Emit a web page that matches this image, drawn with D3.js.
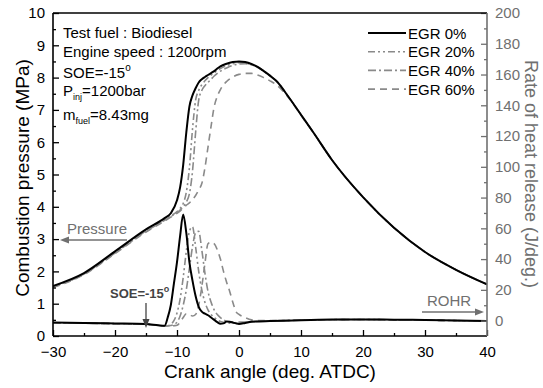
<!DOCTYPE html>
<html><head><meta charset="utf-8">
<script src="https://cdn.jsdelivr.net/npm/d3@7"></script>
<style>
html,body{margin:0;padding:0;background:#fff;}
text{font-family:Arial,"Liberation Sans",sans-serif;}
</style></head>
<body><svg id="chart" width="543" height="388"></svg>
<script>
// ---------- data ----------
const seriesNames = ["EGR 0%", "EGR 20%", "EGR 40%", "EGR 60%"];
const pressureAngles = [-30,-25,-20,-15,-12,-11,-10,-9.5,-9,-8.5,-8,-7.5,-7,-6.5,-6,-5.5,-5,-4.5,-4,-3.5,-3,-2,-1,0,1,2,3,4,5,6,8,10,12,15,20,25,30,35,40];
const pressureEGR0  = [1.55,1.95,2.62,3.3,3.65,3.8,4.2,4.6,5.3,6.3,7.1,7.45,7.67,7.85,7.95,8.02,8.08,8.14,8.2,8.28,8.35,8.43,8.48,8.5,8.48,8.42,8.33,8.2,8.06,7.9,7.4,6.85,6.3,5.45,4.3,3.35,2.6,2.05,1.6];
const pressureEGR20 = [1.52,1.92,2.58,3.25,3.6,3.72,3.85,3.95,4.1,4.45,5.2,6.4,7.3,7.6,7.78,7.9,8.0,8.08,8.15,8.22,8.28,8.37,8.43,8.46,8.45,8.4,8.32,8.2,8.05,7.9,7.4,6.85,6.3,5.45,4.3,3.35,2.6,2.05,1.6];
const pressureEGR40 = [1.52,1.92,2.57,3.24,3.58,3.7,3.82,3.9,4.0,4.15,4.4,5.1,6.3,7.3,7.6,7.75,7.85,7.95,8.05,8.13,8.2,8.3,8.38,8.42,8.43,8.4,8.32,8.2,8.05,7.9,7.4,6.85,6.3,5.45,4.3,3.35,2.6,2.05,1.6];
const pressureEGR60 = [1.5,1.9,2.55,3.22,3.56,3.68,3.8,3.87,3.95,4.05,4.12,4.22,4.35,4.52,4.72,5.2,5.85,6.5,7.1,7.42,7.63,7.88,8.02,8.1,8.13,8.13,8.08,8.0,7.9,7.78,7.38,6.83,6.3,5.45,4.3,3.35,2.6,2.05,1.6];

const rohrAngles = [-30,-25,-20,-15,-13,-12,-11.5,-11,-10.5,-10,-9.5,-9,-8.5,-8,-7.5,-7,-6.5,-6,-5.5,-5,-4.5,-4,-3.5,-3,-2.5,-2,-1.5,-1,-0.5,0,1,2,3,5,10,15,20,25,30,35,40];
const rohrEGR0  = [-1.2,-1.5,-1.8,-2.2,-3.0,-3.3,2,10,24,38,55,69,57,38,26,16,9,5.8,4.5,3.5,2,0.5,-1,-2,-1.8,-0.5,-0.7,-1.2,-1.8,-2.2,-1.5,-0.7,-0.5,-0.3,0.3,0.7,0.8,0.6,0.4,0.1,-0.2];
const rohrEGR20 = [-1.4,-1.7,-2.0,-2.4,-3.2,-3.5,-3.4,-2.5,0,5,14,28,45,58,61,48,32,20,12,7,4,2,0.5,-0.5,-1,-1.5,-1.6,-1.5,-1.2,-1,-1,-0.7,-0.5,-0.2,0.3,0.6,0.7,0.5,0.3,0,-0.3];
const rohrEGR40 = [-1.4,-1.7,-2.0,-2.4,-3.2,-3.5,-3.5,-3.2,-2.5,-1,3,10,20,34,48,57,58,46,31,19,12,7,4,2,0.5,-0.5,-1,-1.3,-1.5,-1.5,-1,-0.7,-0.5,-0.2,0.3,0.6,0.7,0.5,0.3,0,-0.3];
const rohrEGR60 = [-1.4,-1.7,-2.0,-2.4,-3.2,-3.5,-3.5,-3.5,-3.3,-3,-1,2,4.5,4,3,4,10,22,37,50,51,50,46,40,32,25,19,12,6,4,2,0.5,0,0,0.3,0.6,0.7,0.5,0.3,0,-0.3];

const xTicks = [-30,-20,-10,0,10,20,30,40];
const xMinorTicks = [-25,-15,-5,5,15,25,35];
const pTicks = [0,1,2,3,4,5,6,7,8,9,10];
const pMinorTicks = [0.5,1.5,2.5,3.5,4.5,5.5,6.5,7.5,8.5,9.5];
const rTicks = [0,20,40,60,80,100,120,140,160,180,200];
const rMinorTicks = [10,30,50,70,90,110,130,150,170,190];

// ---------- styles ----------
const styles = [
  {color:"#000", width:2, dash:null},
  {color:"#8a8a8a", width:1.6, dash:"7,3,2,3,2,3"},
  {color:"#8a8a8a", width:1.6, dash:"8,3,2,3"},
  {color:"#8a8a8a", width:1.6, dash:"7,5"}
];
const gray = "#707070";

const svg = d3.select("#chart");
const L = 53, R = 487, T = 13, B = 336;
const x = d3.scaleLinear().domain([-30, 40]).range([L, R]);
const yP = d3.scaleLinear().domain([0, 10]).range([B, T]);
const yR = d3.scaleLinear().domain([-10, 200]).range([B, T]);

const pressures = [pressureEGR0, pressureEGR20, pressureEGR40, pressureEGR60];
const rohrs = [rohrEGR0, rohrEGR20, rohrEGR40, rohrEGR60];

svg.append("clipPath").attr("id","clip").append("rect")
  .attr("x", L).attr("y", T).attr("width", R-L).attr("height", B-T);

const plot = svg.append("g").attr("clip-path","url(#clip)");
const lineP = d3.line().x(d=>x(d[0])).y(d=>yP(d[1])).curve(d3.curveMonotoneX);
const lineR = d3.line().x(d=>x(d[0])).y(d=>yR(d[1])).curve(d3.curveMonotoneX);

[3,2,1,0].forEach(i => {
  const s = styles[i];
  const pd = d3.zip(pressureAngles, pressures[i]);
  const rd = d3.zip(rohrAngles, rohrs[i]);
  [[pd,lineP],[rd,lineR]].forEach(([data, gen]) => {
    plot.append("path").attr("d", gen(data))
      .attr("fill","none").attr("stroke", s.color).attr("stroke-width", s.width)
      .attr("stroke-dasharray", s.dash).attr("stroke-linejoin","round");
  });
});

// ---------- axes ----------
function styleAxis(g, color){
  g.select(".domain").remove();
  g.selectAll("line").attr("stroke", color).attr("stroke-width", 1.3);
  g.selectAll("text").attr("fill", color).attr("font-size", 15);
}
const gx = svg.append("g").attr("transform",`translate(0,${B})`)
  .call(d3.axisBottom(x).tickValues(xTicks).tickSize(-6).tickPadding(10).tickFormat(d3.format("d")));
styleAxis(gx, "#000");
const gxm = svg.append("g").attr("transform",`translate(0,${B})`)
  .call(d3.axisBottom(x).tickValues(xMinorTicks).tickSize(-3).tickFormat(""));
styleAxis(gxm, "#000");

const gy = svg.append("g").attr("transform",`translate(${L},0)`)
  .call(d3.axisLeft(yP).tickValues(pTicks).tickSize(-6).tickPadding(8).tickFormat(d3.format("d")));
styleAxis(gy, "#000");
const gym = svg.append("g").attr("transform",`translate(${L},0)`)
  .call(d3.axisLeft(yP).tickValues(pMinorTicks).tickSize(-3).tickFormat(""));
styleAxis(gym, "#000");

const gr = svg.append("g").attr("transform",`translate(${R},0)`)
  .call(d3.axisRight(yR).tickValues(rTicks).tickSize(-6).tickPadding(8).tickFormat(d3.format("d")));
styleAxis(gr, gray);
const grm = svg.append("g").attr("transform",`translate(${R},0)`)
  .call(d3.axisRight(yR).tickValues(rMinorTicks).tickSize(-3).tickFormat(""));
styleAxis(grm, gray);

// frame
svg.append("line").attr("x1",L).attr("x2",R).attr("y1",T).attr("y2",T).attr("stroke","#000").attr("stroke-width",1.6);
svg.append("line").attr("x1",L).attr("x2",R).attr("y1",B).attr("y2",B).attr("stroke","#000").attr("stroke-width",1.6);
svg.append("line").attr("x1",L).attr("x2",L).attr("y1",T).attr("y2",B).attr("stroke","#000").attr("stroke-width",1.6);
svg.append("line").attr("x1",R).attr("x2",R).attr("y1",T).attr("y2",B).attr("stroke",gray).attr("stroke-width",1.6);

// axis titles
svg.append("text").attr("x", (L+R)/2).attr("y", 378).attr("text-anchor","middle")
  .attr("font-size",19).attr("fill","#000").text("Crank angle (deg. ATDC)");
svg.append("text").attr("transform","translate(29,178) rotate(-90)").attr("text-anchor","middle")
  .attr("font-size",19).attr("fill","#000").text("Combustion pressure (MPa)");
svg.append("text").attr("transform","translate(525,174) rotate(90)").attr("text-anchor","middle")
  .attr("font-size",18).attr("fill",gray).text("Rate of heat release (J/deg.)");

// ---------- legend ----------
const lg = svg.append("g");
seriesNames.forEach((name, i) => {
  const yy = 33 + i*18.7;
  const s = styles[i];
  lg.append("line").attr("x1",368).attr("x2",406).attr("y1",yy).attr("y2",yy)
    .attr("stroke", s.color).attr("stroke-width", s.width).attr("stroke-dasharray", s.dash);
  lg.append("text").attr("x",408).attr("y",yy+5.5).attr("font-size",15).attr("fill","#000").text(name);
});

// ---------- annotations ----------
const ann = svg.append("g").attr("font-size",15).attr("fill","#000");
ann.append("text").attr("x",63).attr("y",37.5).text("Test fuel : Biodiesel");
ann.append("text").attr("x",63).attr("y",57).text("Engine speed : 1200rpm");
const t3 = ann.append("text").attr("x",63).attr("y",77.5);
t3.append("tspan").text("SOE=-15");
t3.append("tspan").attr("font-size",10).attr("dy",-7).text("o");
const t4 = ann.append("text").attr("x",63).attr("y",96);
t4.append("tspan").text("P");
t4.append("tspan").attr("font-size",9).attr("dy",4).text("inj");
t4.append("tspan").attr("dy",-4).text("=1200bar");
const t5 = ann.append("text").attr("x",63).attr("y",120);
t5.append("tspan").text("m");
t5.append("tspan").attr("font-size",9).attr("dy",4).text("fuel");
t5.append("tspan").attr("dy",-4).text("=8.43mg");

// Pressure arrow
svg.append("text").attr("x",67).attr("y",233.5).attr("font-size",15).attr("fill",gray).text("Pressure");
svg.append("line").attr("x1",127).attr("x2",66).attr("y1",240).attr("y2",240).attr("stroke",gray).attr("stroke-width",1.6);
svg.append("path").attr("d","M60,240 L69,236.5 L69,243.5 Z").attr("fill",gray);

// SOE marker
const xs = x(-15);
const soe = svg.append("text").attr("x",110).attr("y",297.5).attr("font-size",13).attr("font-weight","bold").attr("fill","#444");
soe.append("tspan").text("SOE=-15");
soe.append("tspan").attr("font-size",9).attr("dy",-6).text("o");
svg.append("line").attr("x1",xs).attr("x2",xs).attr("y1",303).attr("y2",321).attr("stroke","#444").attr("stroke-width",1.3);
svg.append("path").attr("d",`M${xs},328 L${xs-3.5},319 L${xs+3.5},319 Z`).attr("fill","#444");

// ROHR arrow
svg.append("text").attr("x",427).attr("y",305.5).attr("font-size",15).attr("fill",gray).text("ROHR");
svg.append("line").attr("x1",422).attr("x2",477).attr("y1",312).attr("y2",312).attr("stroke",gray).attr("stroke-width",1.6);
svg.append("path").attr("d","M484,312 L475,308.5 L475,315.5 Z").attr("fill",gray);
</script>
</body></html>
